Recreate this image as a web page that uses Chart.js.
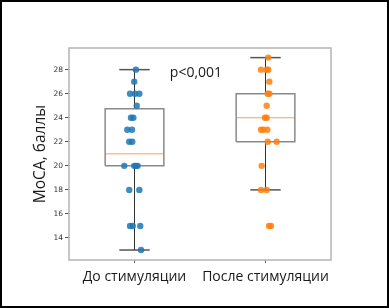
<!DOCTYPE html>
<html>
<head>
<meta charset="utf-8">
<script src="https://cdn.jsdelivr.net/npm/chart.js@4"></script>
<style>
  body { margin: 0; background: #fff; }
  canvas { display: block; }
</style>
</head>
<body>
<canvas id="grafico" width="389" height="308"></canvas>
<script>
// ==================== DADOS ====================
const grupos = ['До стимуляции', 'После стимуляции'];
const posicoes = [1, 2];
const q1 = [20, 22];
const q3 = [24.75, 26];
const medianas = [21, 24];
const bigodeMin = [13, 18];
const bigodeMax = [28, 29];

const antesX = [1.011, 0.998, 0.966, 1.004, 1.037, 1.017, 0.973, 0.991, 0.945, 0.981, 0.960, 0.983, 0.922, 0.998, 1.011, 1.024, 0.960, 1.037, 0.966, 0.986, 1.044, 1.050];
const antesY = [28, 27, 26, 26, 26, 25, 24, 24, 23, 23, 22, 22, 20, 20, 20, 20, 18, 18, 15, 15, 15, 13];
const depoisX = [2.021, 1.966, 2.009, 2.021, 2.029, 2.017, 2.029, 2.009, 1.996, 2.009, 1.966, 1.983, 2.014, 2.017, 2.085, 1.971, 1.966, 2.009, 2.027, 2.042];
const depoisY = [29, 28, 28, 28, 27, 26, 26, 25, 24, 24, 23, 23, 23, 22, 22, 20, 18, 18, 15, 15];

const yTicks = [14, 16, 18, 20, 22, 24, 26, 28];
const anotacao = { texto: 'p<0,001', x: 1.27, y: 27.35 };

// ==================== ESTILO ====================
const meiaCaixa = 0.224;
const meiaTampa = 0.116;
const fonte = "'Open Sans', sans-serif";

// ==================== DATASETS ====================
function linha(pontos, cor, largura) {
    return { data: pontos, showLine: true, borderColor: cor, borderWidth: largura, pointRadius: 0, fill: false, order: 2 };
}

const datasets = [
    { data: antesX.map((x, i) => ({ x, y: antesY[i] })), backgroundColor: 'rgba(31,119,180,0.85)', borderWidth: 0, pointRadius: 3.2, order: 0 },
    { data: depoisX.map((x, i) => ({ x, y: depoisY[i] })), backgroundColor: 'rgba(255,127,14,0.85)', borderWidth: 0, pointRadius: 3.2, order: 0 }
];

posicoes.forEach((p, i) => {
    // caixa
    datasets.push(linha([
        { x: p - meiaCaixa, y: q1[i] }, { x: p + meiaCaixa, y: q1[i] },
        { x: p + meiaCaixa, y: q3[i] }, { x: p - meiaCaixa, y: q3[i] },
        { x: p - meiaCaixa, y: q1[i] }
    ], '#8a8a8a', 1.5));
    // mediana
    datasets.push(linha([{ x: p - meiaCaixa, y: medianas[i] }, { x: p + meiaCaixa, y: medianas[i] }], '#f7a35c', 1));
    // bigodes
    datasets.push(linha([{ x: p, y: q1[i] }, { x: p, y: bigodeMin[i] }], '#333333', 1));
    datasets.push(linha([{ x: p, y: q3[i] }, { x: p, y: bigodeMax[i] }], '#333333', 1));
    // tampas
    datasets.push(linha([{ x: p - meiaTampa, y: bigodeMin[i] }, { x: p + meiaTampa, y: bigodeMin[i] }], '#555555', 1.5));
    datasets.push(linha([{ x: p - meiaTampa, y: bigodeMax[i] }, { x: p + meiaTampa, y: bigodeMax[i] }], '#555555', 1.5));
});

// ==================== PLUGIN: MOLDURA E TEXTO ====================
const moldura = {
    id: 'moldura',
    afterDraw(chart) {
        const { ctx, chartArea: a, scales } = chart;
        ctx.save();
        ctx.strokeStyle = '#b4b4b4';
        ctx.lineWidth = 1.5;
        ctx.strokeRect(a.left, a.top, a.right - a.left, a.bottom - a.top);
        ctx.strokeStyle = '#000';
        ctx.lineWidth = 2;
        ctx.strokeRect(1, 1, chart.width - 2, chart.height - 2);
        ctx.fillStyle = '#1a1a1a';
        ctx.font = "14px " + fonte;
        ctx.textBaseline = 'alphabetic';
        ctx.fillText(anotacao.texto, scales.x.getPixelForValue(anotacao.x), scales.y.getPixelForValue(anotacao.y));
        ctx.restore();
    }
};

// ==================== GRÁFICO ====================
new Chart(document.getElementById('grafico'), {
    type: 'scatter',
    data: { datasets },
    options: {
        responsive: false,
        animation: false,
        layout: { padding: { left: 0, top: 48, right: 58, bottom: 0 } },
        plugins: { legend: { display: false }, tooltip: { enabled: false } },
        scales: {
            x: {
                type: 'linear',
                min: 0.5,
                max: 2.5,
                afterBuildTicks: s => { s.ticks = posicoes.map(v => ({ value: v })); },
                afterFit: s => { s.height = 48; },
                border: { display: false },
                grid: { drawOnChartArea: false, drawTicks: true, tickLength: 3, color: '#666' },
                ticks: {
                    callback: v => grupos[posicoes.indexOf(v)],
                    font: { family: fonte, size: 14 },
                    color: '#1a1a1a',
                    padding: 6,
                    maxRotation: 0
                }
            },
            y: {
                min: 12.17,
                max: 29.8,
                afterBuildTicks: s => { s.ticks = yTicks.map(v => ({ value: v })); },
                afterFit: s => { s.width = 69; },
                border: { display: false },
                grid: { drawOnChartArea: false, drawTicks: true, tickLength: 4, color: '#555' },
                ticks: {
                    font: { family: "'DejaVu Sans', sans-serif", size: 7.5 },
                    color: '#333',
                    padding: 2
                },
                title: {
                    display: true,
                    text: 'MoCA, баллы',
                    font: { family: fonte, size: 15.5 },
                    color: '#1a1a1a',
                    padding: { top: 31, bottom: 0 }
                }
            }
        }
    },
    plugins: [moldura]
});
</script>
</body>
</html>
